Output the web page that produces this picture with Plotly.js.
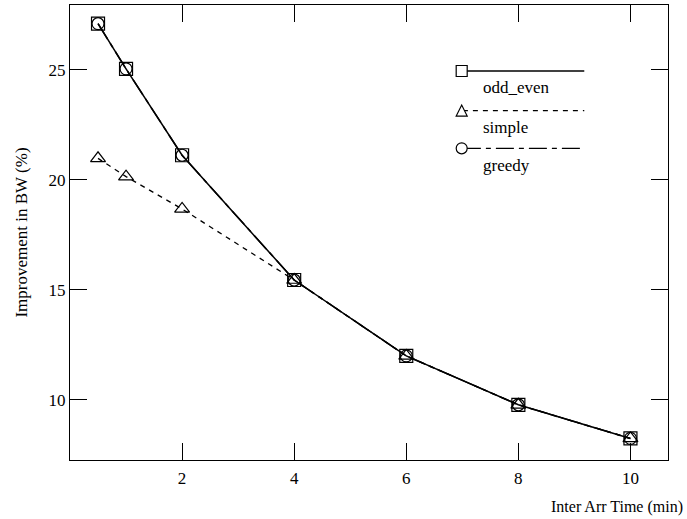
<!DOCTYPE html>
<html>
<head>
<meta charset="utf-8">
<script src="https://cdn.plot.ly/plotly-3.0.1.min.js"></script>
<style>html,body{margin:0;padding:0;background:#fff;}#chart{width:687px;height:519px;}</style>
</head>
<body>
<div id="chart"></div>
<script>
const interArr = [0.5, 1, 2, 4, 6, 8, 10];
const oddEven = [27.1, 25.05, 21.12, 15.45, 12.0, 9.78, 8.25];
const simple = [20.98, 20.15, 18.68, 15.45, 12.0, 9.78, 8.25];
const greedy = [27.1, 25.05, 21.12, 15.45, 12.0, 9.78, 8.25];
const seriesNames = ['odd_even', 'simple', 'greedy'];
const xTicks = [2, 4, 6, 8, 10];
const yTicks = [10, 15, 20, 25];

const font = {family: 'Liberation Serif', color: '#000', size: 17};
const xTitleFont = {family: 'Liberation Serif', color: '#000', size: 16};

const traces = [
  {x: interArr, y: oddEven, name: seriesNames[0], mode: 'lines+markers',
   line: {color: '#000', width: 1.5, dash: 'solid'},
   marker: {symbol: 'square-open', size: 13, color: '#000', line: {width: 1.2}}},
  {x: interArr, y: simple, name: seriesNames[1], mode: 'lines+markers',
   line: {color: '#000', width: 1.3, dash: '5px,5px'},
   marker: {symbol: 'triangle-up-open', size: 13, color: '#000', line: {width: 1.2}}},
  {x: interArr, y: greedy, name: seriesNames[2], mode: 'lines+markers',
   line: {color: '#000', width: 1.5, dash: '18px,5px,5px,5px'},
   marker: {symbol: 'circle-open', size: 12, color: '#000', line: {width: 1.2}}}
];

// custom legend (marker at left, line to the right, label below)
const legX0 = 0.657, legX1 = 0.86;
const legY = [0.855, 0.768, 0.685];
const dashes = ['solid', '5px,5px', '18px,5px,5px,5px'];
const shapes = [];
const annotations = [];
const pw = 598, ph = 455;
legY.forEach((yy, i) => {
  shapes.push({type: 'line', xref: 'paper', yref: 'paper', x0: legX0, x1: legX1, y0: yy, y1: yy,
    line: {color: '#000', width: 1.3, dash: dashes[i]}});
  const dx = 5.5 / pw, dy = 5.5 / ph;
  const cx = legX0 - 0.002;
  if (i === 0) {
    shapes.push({type: 'rect', xref: 'paper', yref: 'paper', x0: cx - dx, x1: cx + dx, y0: yy - dy, y1: yy + dy,
      line: {color: '#000', width: 1.2}, fillcolor: 'white'});
  } else if (i === 1) {
    shapes.push({type: 'path', xref: 'paper', yref: 'paper',
      path: `M ${cx - dx} ${yy - dy} L ${cx + dx} ${yy - dy} L ${cx} ${yy + dy} Z`,
      line: {color: '#000', width: 1.2}, fillcolor: 'white'});
  } else {
    shapes.push({type: 'circle', xref: 'paper', yref: 'paper', x0: cx - dx, x1: cx + dx, y0: yy - dy, y1: yy + dy,
      line: {color: '#000', width: 1.2}, fillcolor: 'white'});
  }
  annotations.push({xref: 'paper', yref: 'paper', x: legX0 + 0.03, y: yy - 0.012, xanchor: 'left', yanchor: 'top',
    text: seriesNames[i], showarrow: false, font: font});
});
annotations.push({xref: 'paper', yref: 'paper', x: 1, y: 0, xanchor: 'right', yanchor: 'top', xshift: 17, yshift: -36,
  text: 'Inter Arr Time (min)', showarrow: false, font: xTitleFont});

const layout = {
  width: 687, height: 519,
  margin: {l: 70, r: 19, t: 5, b: 59},
  paper_bgcolor: '#fff', plot_bgcolor: '#fff',
  font: font,
  showlegend: false,
  xaxis: {range: [0, 10.67], tickvals: xTicks, ticktext: xTicks.map(String), ticks: 'inside', ticklen: 17,
    tickwidth: 1, tickcolor: '#000', showline: true, linecolor: '#000', linewidth: 1, mirror: 'ticks',
    showgrid: false, zeroline: false, tickfont: font, ticklabelstandoff: 3},
  yaxis: {range: [7.27, 27.95], tickvals: yTicks, ticktext: yTicks.map(String), ticks: 'inside', ticklen: 17,
    tickwidth: 1, tickcolor: '#000', showline: true, linecolor: '#000', linewidth: 1, mirror: 'ticks',
    showgrid: false, zeroline: false, tickfont: font,
    title: {text: 'Improvement in BW (%)', font: font, standoff: 16}},
  shapes: shapes,
  annotations: annotations
};

Plotly.newPlot('chart', traces, layout, {displayModeBar: false, staticPlot: true});
</script>
</body>
</html>
